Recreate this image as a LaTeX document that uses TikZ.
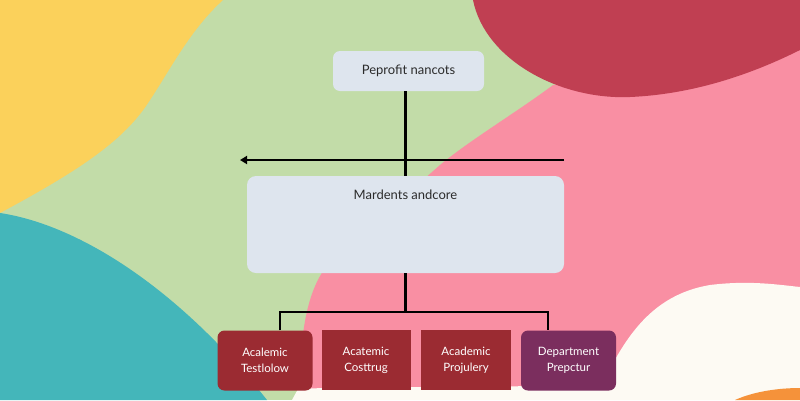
\documentclass[tikz,border=0pt]{standalone}
\usepackage{fontspec}
\setmainfont{Lato}
\usetikzlibrary{arrows.meta}
\definecolor{bggreen}{HTML}{C2DCA8}
\definecolor{byellow}{HTML}{FBD15B}
\definecolor{bteal}{HTML}{44B6BA}
\definecolor{bred}{HTML}{C03F52}
\definecolor{bpink}{HTML}{F98FA3}
\definecolor{bcream}{HTML}{FDFAF3}
\definecolor{borange}{HTML}{F5923A}
\definecolor{lightbox}{HTML}{DEE5EE}
\definecolor{darkred}{HTML}{9B2B32}
\definecolor{plum}{HTML}{7B2E5E}
\definecolor{ink}{HTML}{2B2B2B}
\tikzset{
  lightnode/.style={fill=lightbox, rounded corners=7pt, inner sep=0pt, text=ink, font=\fontsize{13}{15}\selectfont},
  deptnode/.style={inner sep=0pt, text=white, align=center, font=\fontsize{11.5}{16}\selectfont},
  conn/.style={line width=2.2pt, draw=black},
}
\begin{document}
\begin{tikzpicture}[x=1pt,y=-1pt]
\useasboundingbox (0,0) rectangle (800,400);
% background blobs
\fill[bggreen] (0,0) rectangle (800,400);
\fill[byellow] (0,0) -- (223,0) .. controls (190,30) and (170,70) .. (150,100) .. controls (125,140) and (80,170) .. (0,213) -- cycle;
\fill[bteal] (0,213) .. controls (80,225) and (180,290) .. (267,400) -- (0,400) -- cycle;
\fill[bpink] (553,85) .. controls (520,110) and (470,140) .. (440,165) -- (330,262) .. controls (305,290) and (300,340) .. (300,390) -- (800,390) -- (800,45) -- cycle;
\fill[bred] (473,0) .. controls (485,60) and (560,100) .. (630,97) .. controls (700,94) and (760,70) .. (800,50) -- (800,0) -- cycle;
\fill[bcream] (298,389) .. controls (400,384) and (560,392) .. (605,378) .. controls (625,340) and (650,295) .. (710,285) .. controls (750,280) and (780,285) .. (800,287) -- (800,400) -- (292,400) -- cycle;
\fill[borange] (735,400) .. controls (755,391) and (780,388) .. (800,388) -- (800,400) -- cycle;

% nodes
\node[lightnode, minimum width=151pt, minimum height=40pt] (top) at (408.5,71) {Peprofit nancots};
\node[lightnode, rounded corners=9pt, minimum width=317pt, minimum height=97pt,
  label={[anchor=north, yshift=-11pt, text=ink, font=\fontsize{13}{15}\selectfont]north:Mardents andcore}] (mid) at (405.5,224.5) {};
\node[deptnode, fill=darkred, rounded corners=7pt, minimum width=95pt, minimum height=60pt] (d1) at (265,360.5) {Acalemic\\Testlolow};
\node[deptnode, fill=darkred, minimum width=89pt, minimum height=60pt] (d2) at (366,360) {Acatemic\\Costtrug};
\node[deptnode, fill=darkred, minimum width=90pt, minimum height=60pt] (d3) at (466,360) {Academic\\Projulery};
\node[deptnode, fill=plum, rounded corners=7pt, minimum width=95pt, minimum height=60pt] (d4) at (568.5,360.5) {Department\\Prepctur};

% connectors
\coordinate (arrR) at (564,160);
\coordinate (arrL) at (240,160);
\coordinate (busL) at (280,312);
\coordinate (busR) at (548,312);
\draw[conn] (top.south -| mid.north) -- (mid.north);
\draw[conn, -{Triangle[length=7pt,width=8pt]}] (arrR) -- (arrL);
\draw[conn] (mid.south) -- (mid.south |- busL);
\draw[conn] (d1.north -| busL) -- (busL) -- (busR) -- (d4.north -| busR);
\end{tikzpicture}
\end{document}
